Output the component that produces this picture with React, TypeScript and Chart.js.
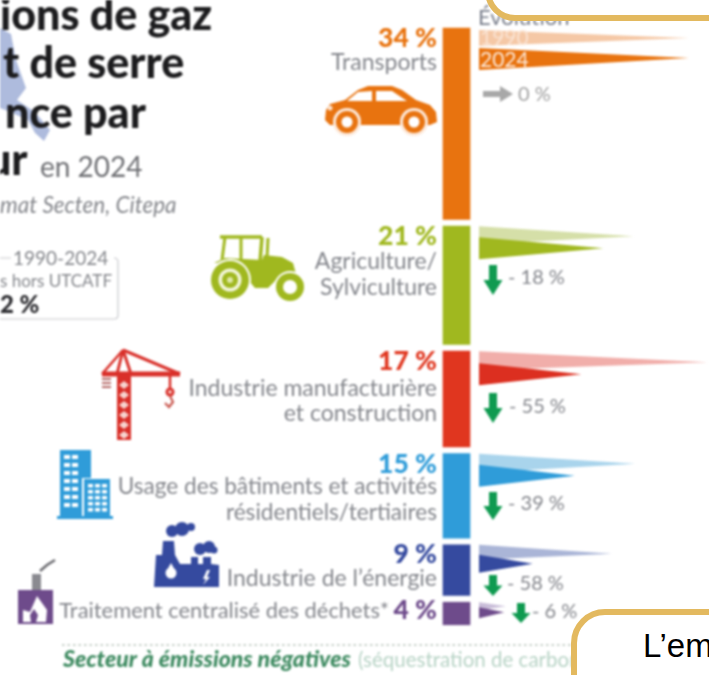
import React, { useEffect, useRef } from "react";
import { Chart, registerables } from "chart.js";

Chart.register(...registerables);

// ---- data ----
const sectors = ["Transports", "Agriculture/Sylviculture", "Industrie manufacturière et construction", "Usage des bâtiments et activités résidentiels/tertiaires", "Industrie de l’énergie", "Traitement centralisé des déchets*"];
const shares = [34, 21, 17, 15, 9, 4];
const emissions1990 = [125, 92, 136, 93, 79, 16];
const emissions2024 = [125, 74, 61, 57, 32, 15];
const evolutions = ["0 %", "- 18 %", "- 55 %", "- 39 %", "- 58 %", "- 6 %"];

// ---- styles and layout ----
const barColors = ["#e8730f", "#a0b81f", "#e0361f", "#2f9cd9", "#354a9f", "#6e4b8b"];
const lightColors = ["#f5c8a6", "#d5dfa8", "#f1aeaa", "#a9d4ec", "#aab5d7", "#c8bcd8"];
const darkColors = ["#e8730f", "#a0b81f", "#dc2f20", "#2f9cd9", "#354a9f", "#6e4b8b"];

const PX_X = 1.68; // px per Mt
const X0 = 479;
const PX_Y = 5.63; // px per %
const Y0 = 28;
const GAP = 1.2;
const BAR_X = (456.5 - X0) / PX_X;

// wedge offsets from the top of each segment, px: [top, tip, bottom]
const wedge90 = [[2, 10, 18], [0, 10, 18], [0, 11, 19], [0, 10, 19], [0, 9, 15], [0, 4, 8]];
const wedge24 = [[20, 30, 42], [11, 22, 33], [12, 23, 34], [11, 22, 33], [10, 19, 28], [5, 10, 16]];

const starts: number[] = [];
shares.reduce((acc, s) => {
  starts.push(acc);
  return acc + s + GAP;
}, 0);

const wedgePoints = (i: number, value: number, w: number[]) => [
  { x: 0, y: starts[i] + w[0] / PX_Y },
  { x: value, y: starts[i] + w[1] / PX_Y },
  { x: 0, y: starts[i] + w[2] / PX_Y },
];

const SANS = "Lato, 'Open Sans', sans-serif";
const GREY = "#84868c";

type Ctx = CanvasRenderingContext2D;

function text(ctx: Ctx, s: string, x: number, y: number, font: string, color: string, align: CanvasTextAlign = "left") {
  ctx.font = font;
  ctx.fillStyle = color;
  ctx.textAlign = align;
  ctx.textBaseline = "alphabetic";
  ctx.fillText(s, x, y);
}

function poly(ctx: Ctx, pts: number[][], color: string) {
  ctx.fillStyle = color;
  ctx.beginPath();
  pts.forEach(([x, y], i) => (i ? ctx.lineTo(x, y) : ctx.moveTo(x, y)));
  ctx.closePath();
  ctx.fill();
}

function disc(ctx: Ctx, x: number, y: number, r: number, color: string) {
  ctx.fillStyle = color;
  ctx.beginPath();
  ctx.arc(x, y, r, 0, Math.PI * 2);
  ctx.fill();
}

function line(ctx: Ctx, pts: number[][], color: string, w: number) {
  ctx.strokeStyle = color;
  ctx.lineWidth = w;
  ctx.beginPath();
  pts.forEach(([x, y], i) => (i ? ctx.lineTo(x, y) : ctx.moveTo(x, y)));
  ctx.stroke();
}

function downArrow(ctx: Ctx, x: number, top: number, bottom: number) {
  const neck = bottom - (bottom - top) * 0.5;
  poly(ctx, [[x - 4, top], [x + 4, top], [x + 4, neck], [x + 9.5, neck], [x, bottom], [x - 9.5, neck], [x - 4, neck]], "#0f9a50");
}

function car(ctx: Ctx) {
  const c = barColors[0];
  poly(ctx, [[326, 110], [330, 104], [345, 100], [358, 90], [368, 86], [392, 86], [402, 90], [416, 100], [430, 105], [436, 112], [437, 122], [430, 125], [330, 125], [325, 120]], c);
  poly(ctx, [[347, 101], [358, 92], [372, 91], [372, 101]], "#fff");
  poly(ctx, [[376, 91], [392, 91], [407, 101], [376, 101]], "#fff");
  disc(ctx, 330, 108, 2.5, "#fbe3d0");
  for (const x of [347, 414]) {
    disc(ctx, x, 122, 14, "#fde9da");
    disc(ctx, x, 122, 11, c);
    disc(ctx, x, 122, 5.5, "#fff");
  }
}

function tractor(ctx: Ctx) {
  const c = barColors[1];
  line(ctx, [[220, 237], [262, 237]], c, 3.5);
  line(ctx, [[225, 237], [222, 260]], c, 3);
  line(ctx, [[241, 237], [241, 262]], c, 3);
  line(ctx, [[262, 237], [260, 262]], c, 3.5);
  line(ctx, [[268, 238], [267, 258]], c, 3);
  poly(ctx, [[214, 263], [225, 258], [262, 260], [264, 255], [282, 257], [293, 263], [296, 274], [280, 276], [268, 288], [255, 288], [245, 276], [240, 262]], c);
  disc(ctx, 230, 280, 21, "#fff");
  disc(ctx, 230, 280, 19, c);
  disc(ctx, 230, 280, 11.5, "#f3f6dc");
  disc(ctx, 230, 280, 8, c);
  disc(ctx, 230, 280, 3, "#dfe8a8");
  disc(ctx, 290, 287, 16, "#fff");
  disc(ctx, 290, 287, 14, c);
  disc(ctx, 290, 287, 7, "#fff");
}

function crane(ctx: Ctx) {
  const c = "#d9302a";
  line(ctx, [[102, 374], [180, 374]], c, 5);
  line(ctx, [[123, 350], [102, 374]], c, 2.5);
  line(ctx, [[123, 350], [180, 374]], c, 3);
  line(ctx, [[123, 350], [117, 374]], c, 3);
  line(ctx, [[123, 350], [131, 374]], c, 3);
  poly(ctx, [[117, 374], [131, 374], [131, 440], [117, 440]], c);
  for (let i = 0; i < 6; i++) {
    const y = 381 + i * 10;
    poly(ctx, [[124, y], [129, y + 4], [124, y + 8], [119, y + 4]], "#f7d5d0");
  }
  line(ctx, [[102, 379], [111, 379]], "#b56a68", 2);
  line(ctx, [[102, 383], [111, 383]], "#b56a68", 2);
  line(ctx, [[102, 387], [111, 387]], "#b56a68", 2);
  line(ctx, [[170, 374], [170, 388]], c, 2.5);
  disc(ctx, 170, 392, 4.5, c);
  disc(ctx, 170, 392, 1.8, "#f7d5d0");
  line(ctx, [[170, 396], [173, 402], [169, 407], [165, 403]], "#c9584f", 2.2);
}

function buildings(ctx: Ctx) {
  const c = barColors[3];
  poly(ctx, [[60, 450], [91, 450], [91, 516], [60, 516]], c);
  poly(ctx, [[82, 478], [110, 478], [110, 516], [82, 516]], "#fff");
  poly(ctx, [[84, 479], [110, 479], [110, 516], [84, 516]], c);
  poly(ctx, [[57, 516], [113, 516], [113, 519], [57, 519]], c);
  ctx.fillStyle = "#fff";
  for (let r = 0; r < 7; r++) for (let k = 0; k < 2; k++) ctx.fillRect(64 + k * 8, 455 + r * 8, 6, 4);
  for (let r = 0; r < 5; r++) for (let k = 0; k < 3; k++) ctx.fillRect(88 + k * 7, 484 + r * 6, 5, 3.5);
}

function factory(ctx: Ctx) {
  const c = barColors[4];
  poly(ctx, [[156, 555], [162, 555], [163, 541], [174, 541], [175, 555], [180, 564], [191, 564], [191, 557], [198, 557], [198, 564], [203, 564], [203, 557], [211, 557], [211, 564], [219, 565], [219, 587], [154, 587]], c);
  disc(ctx, 172, 531, 6, c);
  disc(ctx, 182, 529, 7, c);
  disc(ctx, 191, 527, 4, c);
  disc(ctx, 200, 549, 6, c);
  disc(ctx, 209, 547, 6, c);
  disc(ctx, 214, 550, 3.5, c);
  disc(ctx, 171, 573, 5.5, "#fff");
  poly(ctx, [[171, 563], [176, 572], [166, 572]], "#fff");
  poly(ctx, [[207, 570], [203, 579], [206, 579], [203, 585], [210, 577], [207, 577], [210, 570]], "#fff");
}

function incinerator(ctx: Ctx) {
  const c = barColors[5];
  poly(ctx, [[18, 590], [53, 590], [53, 624], [18, 624]], c);
  poly(ctx, [[32, 574], [41, 574], [41, 590], [32, 590]], "#8a8a90");
  line(ctx, [[40, 571], [47, 565], [55, 560]], "#6b6b70", 2.5);
  poly(ctx, [[37, 596], [47, 610], [46, 622], [23, 622], [23, 610], [30, 612]], "#fff");
  poly(ctx, [[34, 609], [38, 615], [36, 622], [31, 622], [30, 615]], c);
}

const decorations = {
  id: "decorations",
  beforeDatasetsDraw(chart: Chart) {
    const ctx = chart.ctx as Ctx;
    ctx.save();
    // map of France behind the title
    poly(ctx, [[0, 28], [11, 34], [16, 60], [26, 88], [17, 100], [35, 112], [50, 130], [44, 141], [35, 133], [28, 120], [10, 112], [0, 108]], "#aebbdd");
    // "Évolution" head
    text(ctx, "Évolution", 478, 25, `22px ${SANS}`, "#7a7f8c");
    ctx.restore();
  },
  afterDatasetsDraw(chart: Chart) {
    const ctx = chart.ctx as Ctx;
    ctx.save();
    // title block
    const H = `900 43px ${SANS}`;
    text(ctx, "ions de gaz", 0, 30, H, "#1c1c1e");
    text(ctx, "t de serre", 3, 78, H, "#1c1c1e");
    text(ctx, "nce par", 5, 128, H, "#1c1c1e");
    text(ctx, "ur", -13, 175, H, "#1c1c1e");
    text(ctx, "en 2024", 40, 177, `28px ${SANS}`, "#6f7074");
    text(ctx, "mat Secten, Citepa", 0, 213, `italic 22.5px ${SANS}`, "#85878c");

    // indicator box
    ctx.strokeStyle = "#c9cace";
    ctx.lineWidth = 1.2;
    ctx.beginPath();
    ctx.moveTo(-5, 319);
    ctx.lineTo(114, 319);
    ctx.quadraticCurveTo(118, 319, 118, 315);
    ctx.lineTo(118, 262);
    ctx.quadraticCurveTo(118, 258, 114, 258);
    ctx.moveTo(-5, 258);
    ctx.lineTo(11, 258);
    ctx.stroke();
    text(ctx, "1990-2024", 13, 265, `19px ${SANS}`, "#85878c");
    text(ctx, "s hors UTCATF", 0, 287, `17px ${SANS}`, "#85878c");
    text(ctx, "2 %", 0, 313, `900 24px ${SANS}`, "#2c2c30");

    // year tags in the Transports wedges
    text(ctx, "1990", 480, 45, `21px ${SANS}`, "#fae3d2");
    text(ctx, "2024", 480, 67, `21px ${SANS}`, "#fde8d8");

    // sector labels
    const pct = `900 26.5px ${SANS}`;
    const lab = `23px ${SANS}`;
    const R = 437;
    text(ctx, `${shares[0]} %`, R, 47, pct, barColors[0], "right");
    text(ctx, "Transports", R, 70, lab, GREY, "right");
    text(ctx, `${shares[1]} %`, R, 245, pct, barColors[1], "right");
    text(ctx, "Agriculture/", R, 269, lab, GREY, "right");
    text(ctx, "Sylviculture", R, 295, lab, GREY, "right");
    text(ctx, `${shares[2]} %`, R, 370, pct, barColors[2], "right");
    text(ctx, "Industrie manufacturière", R, 396, lab, GREY, "right");
    text(ctx, "et construction", R, 421, lab, GREY, "right");
    text(ctx, `${shares[3]} %`, R, 473, pct, barColors[3], "right");
    text(ctx, "Usage des bâtiments et activités", R, 494, `22.6px ${SANS}`, GREY, "right");
    text(ctx, "résidentiels/tertiaires", R, 520, `22.6px ${SANS}`, GREY, "right");
    text(ctx, `${shares[4]} %`, R, 563, pct, barColors[4], "right");
    text(ctx, "Industrie de l’énergie", R, 586, lab, GREY, "right");
    text(ctx, `${shares[5]} %`, R, 619, pct, barColors[5], "right");
    text(ctx, "Traitement centralisé des déchets*", 389, 618, `21.9px ${SANS}`, GREY, "right");

    // evolution notes
    const ev = `20px ${SANS}`;
    poly(ctx, [[483, 91], [500, 91], [500, 86], [513, 94], [500, 102], [500, 97], [483, 97]], "#a8a8a8");
    text(ctx, evolutions[0], 518, 101, ev, "#a0a0a0");
    downArrow(ctx, 493, 265, 295);
    text(ctx, evolutions[1], 508, 284, ev, GREY);
    downArrow(ctx, 493, 393, 423);
    text(ctx, evolutions[2], 509, 413, ev, GREY);
    downArrow(ctx, 493, 492, 520);
    text(ctx, evolutions[3], 508, 510, ev, GREY);
    downArrow(ctx, 493, 575, 596);
    text(ctx, evolutions[4], 507, 590, ev, GREY);
    downArrow(ctx, 521, 603, 623);
    text(ctx, evolutions[5], 532, 618, ev, GREY);

    car(ctx);
    tractor(ctx);
    crane(ctx);
    buildings(ctx);
    factory(ctx);
    incinerator(ctx);

    // negative-emission footer
    ctx.strokeStyle = "#b5c2b8";
    ctx.lineWidth = 1.5;
    ctx.setLineDash([2.5, 3]);
    ctx.beginPath();
    ctx.moveTo(62, 645);
    ctx.lineTo(575, 645);
    ctx.stroke();
    ctx.setLineDash([]);
    text(ctx, "Secteur à émissions négatives", 63, 667, `italic 900 23px ${SANS}`, "#3d8a60");
    text(ctx, "(séquestration de carbone)", 358, 667, `20.5px ${SANS}`, "#b7d3c5");
    ctx.restore();
  },
};

export default function App() {
  const ref = useRef<HTMLCanvasElement>(null);
  useEffect(() => {
    if (!ref.current) return;
    const chart = new Chart(ref.current, {
      type: "bar",
      data: {
        datasets: [
          ...sectors.flatMap((name, i) => [
            {
              type: "line" as const,
              label: `${name} 1990`,
              data: wedgePoints(i, emissions1990[i], wedge90[i]),
              backgroundColor: lightColors[i],
              borderWidth: 0,
              pointRadius: 0,
              fill: "shape",
              tension: 0,
              order: 2,
            },
            {
              type: "line" as const,
              label: `${name} 2024`,
              data: wedgePoints(i, emissions2024[i], wedge24[i]),
              backgroundColor: darkColors[i],
              borderWidth: 0,
              pointRadius: 0,
              fill: "shape",
              tension: 0,
              order: 1,
            },
          ]),
          {
            type: "bar" as const,
            label: "Part des émissions",
            data: shares.map((s, i) => ({ x: BAR_X, y: [starts[i], starts[i] + s] })),
            backgroundColor: barColors,
            barThickness: 27,
            order: 0,
          },
        ] as any,
      },
      options: {
        animation: false,
        responsive: false,
        layout: { padding: 0 },
        plugins: { legend: { display: false }, tooltip: { enabled: false }, title: { display: false } },
        scales: {
          x: { type: "linear", display: false, offset: false, min: -X0 / PX_X, max: (709 - X0) / PX_X },
          y: { type: "linear", display: false, offset: false, reverse: true, min: -Y0 / PX_Y, max: (675 - Y0) / PX_Y },
        },
      },
      plugins: [decorations],
    });
    return () => chart.destroy();
  }, []);

  return (
    <div style={{ position: "fixed", left: 0, top: 0, width: 709, height: 675, overflow: "hidden", background: "#fff" }}>
      <canvas ref={ref} width={709} height={675} style={{ display: "block", filter: "blur(0.8px)" }} />
      <div style={{ position: "absolute", boxSizing: "border-box", left: 485, top: -60, width: 300, height: 81, border: "6px solid #e3b95f", borderRadius: 30, background: "#fff" }} />
      <div style={{ position: "absolute", boxSizing: "border-box", left: 571, top: 609, width: 300, height: 120, border: "6px solid #e3b95f", borderRadius: 34, background: "#fff", overflow: "hidden" }}>
        <span style={{ position: "absolute", left: 66, top: 12, font: "33px 'Liberation Sans', Arial, sans-serif", color: "#000", whiteSpace: "nowrap" }}>L’em</span>
      </div>
    </div>
  );
}
